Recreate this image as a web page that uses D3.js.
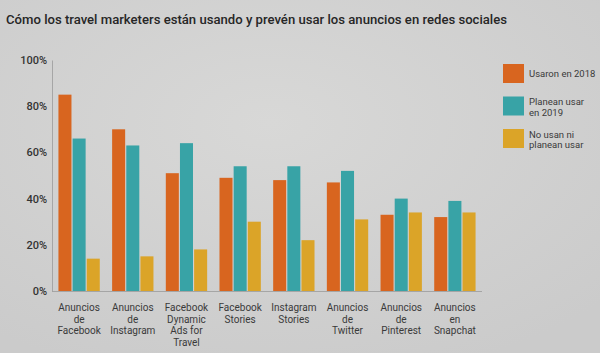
<!DOCTYPE html>
<html>
<head>
<meta charset="utf-8">
<script src="https://cdn.jsdelivr.net/npm/d3@7"></script>
<style>
  html, body { margin: 0; padding: 0; }
  body { width: 600px; height: 353px; overflow: hidden; background: #d2d2d1; font-family: Roboto, "Noto Sans", sans-serif; }
</style>
</head>
<body>
<div id="chart"></div>
<script>
const categories = [
  ["Anuncios", "de", "Facebook"],
  ["Anuncios", "de", "Instagram"],
  ["Facebook", "Dynamic", "Ads for", "Travel"],
  ["Facebook", "Stories"],
  ["Instagram", "Stories"],
  ["Anuncios", "de", "Twitter"],
  ["Anuncios", "de", "Pinterest"],
  ["Anuncios", "en", "Snapchat"]
];
const usaron2018 = [85, 70, 51, 49, 48, 47, 33, 32];
const planean2019 = [66, 63, 64, 54, 54, 52, 40, 39];
const noUsan = [14, 15, 18, 30, 22, 31, 34, 34];
const seriesNames = [["Usaron en 2018"], ["Planean usar", "en 2019"], ["No usan ni", "planean usar"]];
const yTicks = [0, 20, 40, 60, 80, 100];
const title = "Cómo los travel marketers están usando y prevén usar los anuncios en redes sociales";

const colors = ["#d8651f", "#38a3a6", "#dba428"];
const series = [usaron2018, planean2019, noUsan];

const width = 600, height = 353;
const margin = { top: 60, right: 118, bottom: 62, left: 52 };

const svg = d3.select("#chart").append("svg")
  .attr("width", width).attr("height", height);

// fond légèrement dégradé comme la photo
const defs = svg.append("defs");
const grad = defs.append("radialGradient").attr("id", "bg").attr("cx", "45%").attr("cy", "35%").attr("r", "75%");
grad.append("stop").attr("offset", "0%").attr("stop-color", "#d8d8d7");
grad.append("stop").attr("offset", "100%").attr("stop-color", "#cbcbcb");
svg.append("rect").attr("width", width).attr("height", height).attr("fill", "url(#bg)");

// titre
svg.append("text")
  .attr("x", 6).attr("y", 24)
  .attr("textLength", 501)
  .attr("lengthAdjust", "spacingAndGlyphs")
  .style("font-size", "13.3px")
  .style("font-weight", 500)
  .style("fill", "#262626")
  .text(title);

const x0 = d3.scaleBand()
  .domain(d3.range(categories.length))
  .range([margin.left, width - margin.right])
  .paddingInner(0.23).paddingOuter(0.12);

const x1 = d3.scaleBand()
  .domain(d3.range(series.length))
  .range([0, x0.bandwidth()])
  .paddingInner(0.08);

const y = d3.scaleLinear()
  .domain([0, 100])
  .range([height - margin.bottom, margin.top]);

// axe Y
const yAxis = svg.append("g")
  .attr("transform", `translate(${margin.left},0)`)
  .call(d3.axisLeft(y).tickValues(yTicks).tickFormat(d => d + "%").tickSize(0).tickPadding(5));
yAxis.select(".domain").attr("stroke", "#9a9a9a").attr("stroke-width", 0.8);
yAxis.selectAll("text")
  .style("font-family", "Roboto, sans-serif")
  .style("font-size", "11px")
  .style("font-weight", 500)
  .style("fill", "#333");

// barres
const groups = svg.append("g")
  .selectAll("g")
  .data(categories)
  .join("g")
  .attr("transform", (d, i) => `translate(${x0(i)},0)`);

groups.selectAll("rect")
  .data((d, i) => series.map((s, k) => ({ k, v: s[i] })))
  .join("rect")
  .attr("x", d => x1(d.k))
  .attr("y", d => y(d.v))
  .attr("width", x1.bandwidth())
  .attr("height", d => y(0) - y(d.v))
  .attr("fill", d => colors[d.k]);

// ligne de base
svg.append("line")
  .attr("x1", margin.left).attr("x2", width - margin.right)
  .attr("y1", y(0) + 0.5).attr("y2", y(0) + 0.5)
  .attr("stroke", "#9a9a9a").attr("stroke-width", 0.8);

// libellés X
const xLabels = svg.append("g")
  .selectAll("text")
  .data(categories)
  .join("text")
  .attr("x", (d, i) => x0(i) + x0.bandwidth() / 2)
  .attr("y", y(0) + 20)
  .attr("text-anchor", "middle")
  .style("font-size", "10px")
  .style("fill", "#3a3a3a");
xLabels.selectAll("tspan")
  .data(d => d)
  .join("tspan")
  .attr("x", function () { return d3.select(this.parentNode).attr("x"); })
  .attr("dy", (d, i) => i === 0 ? 0 : 11.6)
  .text(d => d);

// légende
const legend = svg.append("g")
  .selectAll("g")
  .data(seriesNames)
  .join("g")
  .attr("transform", (d, i) => `translate(503,${64 + i * 32.5})`);
legend.append("rect")
  .attr("width", 21).attr("height", 19)
  .attr("fill", (d, i) => colors[i]);
legend.append("text")
  .attr("x", 26)
  .attr("y", (d) => d.length === 1 ? 13 : 8.5)
  .style("font-size", "9.5px")
  .style("fill", "#3a3a3a")
  .selectAll("tspan")
  .data(d => d)
  .join("tspan")
  .attr("x", 26)
  .attr("dy", (d, i) => i === 0 ? 0 : 10.5)
  .text(d => d);
</script>
</body>
</html>
